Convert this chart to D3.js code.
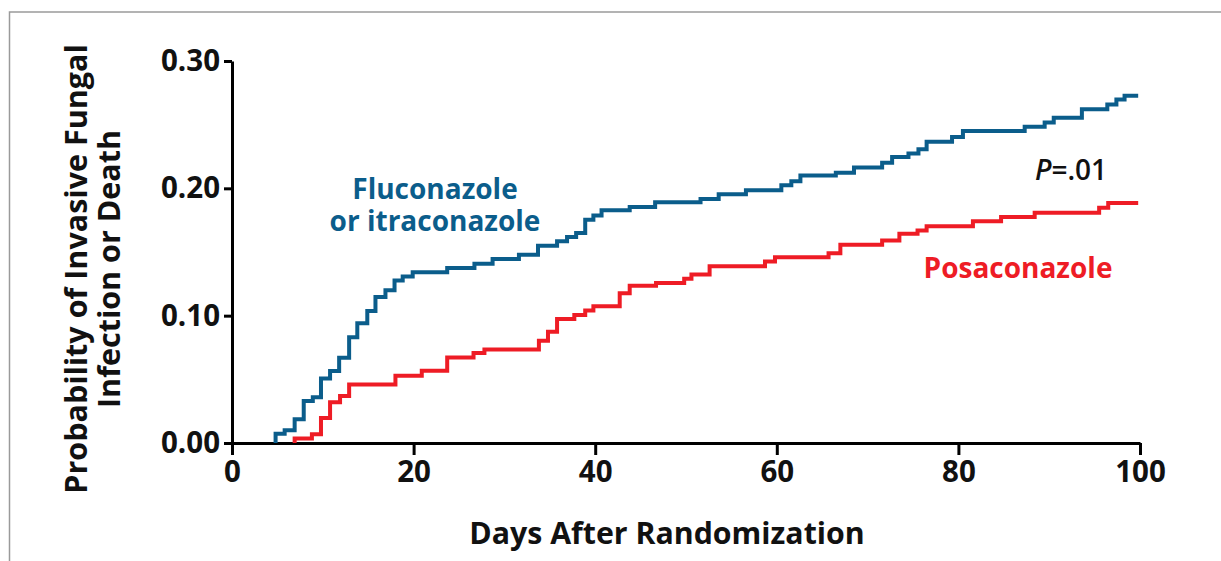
<!DOCTYPE html>
<html>
<head>
<meta charset="utf-8">
<script src="https://cdn.jsdelivr.net/npm/d3@7"></script>
<style>
  body { margin: 0; background: #fff; }
  text { font-family: "Open Sans", sans-serif; font-weight: 700; }
</style>
</head>
<body>
<div id="chart"></div>
<script>
// Kaplan-Meier style cumulative curves
const flucoDays = [4.8, 4.8, 5.8, 6.9, 7.9, 8.9, 9.8, 10.8, 11.8, 12.9, 13.8, 14.9, 15.8, 16.9, 17.9, 18.8, 19.9,
  23.7, 26.7, 28.7, 31.6, 33.7, 35.8, 36.9, 37.9, 38.9, 39.8, 40.7, 43.8, 46.6, 51.6, 53.6, 56.6,
  60.5, 61.6, 62.6, 66.5, 68.5, 71.6, 72.7, 74.5, 75.6, 76.5, 79.3, 80.5, 87.3, 89.5, 90.5, 93.6,
  96.4, 97.4, 98.3, 99.8];
const flucoProb = [0, 0.0073, 0.010, 0.0187, 0.033, 0.036, 0.0506, 0.0565, 0.067, 0.083, 0.094, 0.1037, 0.1147, 0.120, 0.1276, 0.1307, 0.134,
  0.1375, 0.1407, 0.1446, 0.1478, 0.155, 0.1585, 0.1617, 0.165, 0.1754, 0.1787, 0.1827, 0.1853, 0.189, 0.1917, 0.1953, 0.1984,
  0.2024, 0.2055, 0.210, 0.2123, 0.2163, 0.220, 0.2246, 0.2273, 0.2307, 0.2365, 0.2404, 0.2451, 0.2483, 0.2517, 0.2554, 0.2622,
  0.2659, 0.2698, 0.2727, 0.2727];

const posaDays = [6.9, 6.9, 8.8, 9.8, 10.8, 11.9, 12.9, 18.0, 20.9, 23.7, 26.6, 27.8, 33.8, 34.8, 35.8, 37.7, 38.9, 39.8,
  42.7, 43.8, 46.7, 49.8, 50.6, 52.6, 58.7, 59.8, 65.7, 67.0, 71.6, 73.5, 75.5, 76.5, 81.6, 84.7, 88.4,
  95.5, 96.5, 99.8];
const posaProb = [0, 0.0035, 0.0068, 0.0196, 0.032, 0.037, 0.046, 0.0528, 0.0567, 0.0672, 0.0706, 0.0735, 0.0803, 0.0874, 0.0974, 0.1006, 0.104, 0.1073,
  0.1176, 0.1234, 0.1257, 0.1289, 0.1323, 0.1388, 0.1425, 0.1459, 0.149, 0.1556, 0.159, 0.1643, 0.1669, 0.1703, 0.1742, 0.1774, 0.1809,
  0.1848, 0.1885, 0.1885];

const xTicks = [0, 20, 40, 60, 80, 100];
const yTicks = [0, 0.10, 0.20, 0.30];

const blue = '#0b5d8b';
const red = '#ee1c25';

const svgWidth = 1221, svgHeight = 561;
const plotLeft = 232, plotRight = 1140, plotTop = 61, plotBottom = 443;

const svg = d3.select('#chart')
  .append('svg')
  .attr('width', svgWidth)
  .attr('height', svgHeight);

// grey frame around the figure
svg.append('rect')
  .attr('x', 9.5).attr('y', 12)
  .attr('width', 1240).attr('height', 600)
  .attr('fill', 'none')
  .attr('stroke', '#9a9a9a')
  .attr('stroke-width', 1.5);

const xScale = d3.scaleLinear().domain([0, 100]).range([plotLeft, plotRight]);
const yScale = d3.scaleLinear().domain([0, 0.30]).range([plotBottom, plotTop]);

// axes
const xAxis = d3.axisBottom(xScale)
  .tickValues(xTicks)
  .tickFormat(d3.format('d'))
  .tickSize(12)
  .tickSizeOuter(0)
  .tickPadding(6);

const yAxis = d3.axisLeft(yScale)
  .tickValues(yTicks)
  .tickFormat(d3.format('.2f'))
  .tickSize(8)
  .tickSizeOuter(0)
  .tickPadding(4);

const gx = svg.append('g')
  .attr('transform', 'translate(0,' + plotBottom + ')')
  .call(xAxis);

const gy = svg.append('g')
  .attr('transform', 'translate(' + plotLeft + ',0)')
  .call(yAxis);

[gx, gy].forEach(function(g) {
  g.select('.domain').attr('stroke', '#000').attr('stroke-width', 3);
  g.selectAll('.tick line').attr('stroke', '#000').attr('stroke-width', 3);
  g.selectAll('.tick text')
    .attr('fill', '#111')
    .style('font-size', '29.5px')
    .style('font-family', '"Open Sans", sans-serif')
    .style('font-weight', 700);
});

// step curves
const line = d3.line()
  .x((d) => xScale(d[0]))
  .y((d) => yScale(d[1]))
  .curve(d3.curveStepAfter);

const fluco = flucoDays.map((d, i) => [d, flucoProb[i]]);
const posa = posaDays.map((d, i) => [d, posaProb[i]]);

svg.append('path')
  .datum(posa)
  .attr('d', line)
  .attr('fill', 'none')
  .attr('stroke', red)
  .attr('stroke-width', 4);

svg.append('path')
  .datum(fluco)
  .attr('d', line)
  .attr('fill', 'none')
  .attr('stroke', blue)
  .attr('stroke-width', 4);

// axis titles
svg.append('text')
  .attr('x', 667)
  .attr('y', 544)
  .attr('text-anchor', 'middle')
  .attr('fill', '#111')
  .style('font-size', '30.3px')
  .text('Days After Randomization');

const yTitle = svg.append('text')
  .attr('transform', 'translate(0,269) rotate(-90)')
  .attr('text-anchor', 'middle')
  .attr('fill', '#111')
  .style('font-size', '30.5px');
yTitle.append('tspan').attr('x', 0).attr('y', 87).text('Probability of Invasive Fungal');
yTitle.append('tspan').attr('x', 0).attr('y', 120).text('Infection or Death');

// series labels
svg.append('text')
  .attr('x', 435).attr('y', 199)
  .attr('text-anchor', 'middle')
  .attr('fill', blue)
  .style('font-size', '28px')
  .text('Fluconazole');

svg.append('text')
  .attr('x', 435).attr('y', 231)
  .attr('text-anchor', 'middle')
  .attr('fill', blue)
  .style('font-size', '28px')
  .text('or itraconazole');

svg.append('text')
  .attr('x', 1018)
  .attr('y', 278)
  .attr('text-anchor', 'middle')
  .attr('fill', red)
  .style('font-size', '28px')
  .text('Posaconazole');

const pv = svg.append('text')
  .attr('x', 1071)
  .attr('y', 180)
  .attr('text-anchor', 'middle')
  .attr('fill', '#111')
  .style('font-size', '28px')
  .style('font-weight', 600);
pv.append('tspan').style('font-style', 'italic').text('P');
pv.append('tspan').text('=.01');
</script>
</body>
</html>
